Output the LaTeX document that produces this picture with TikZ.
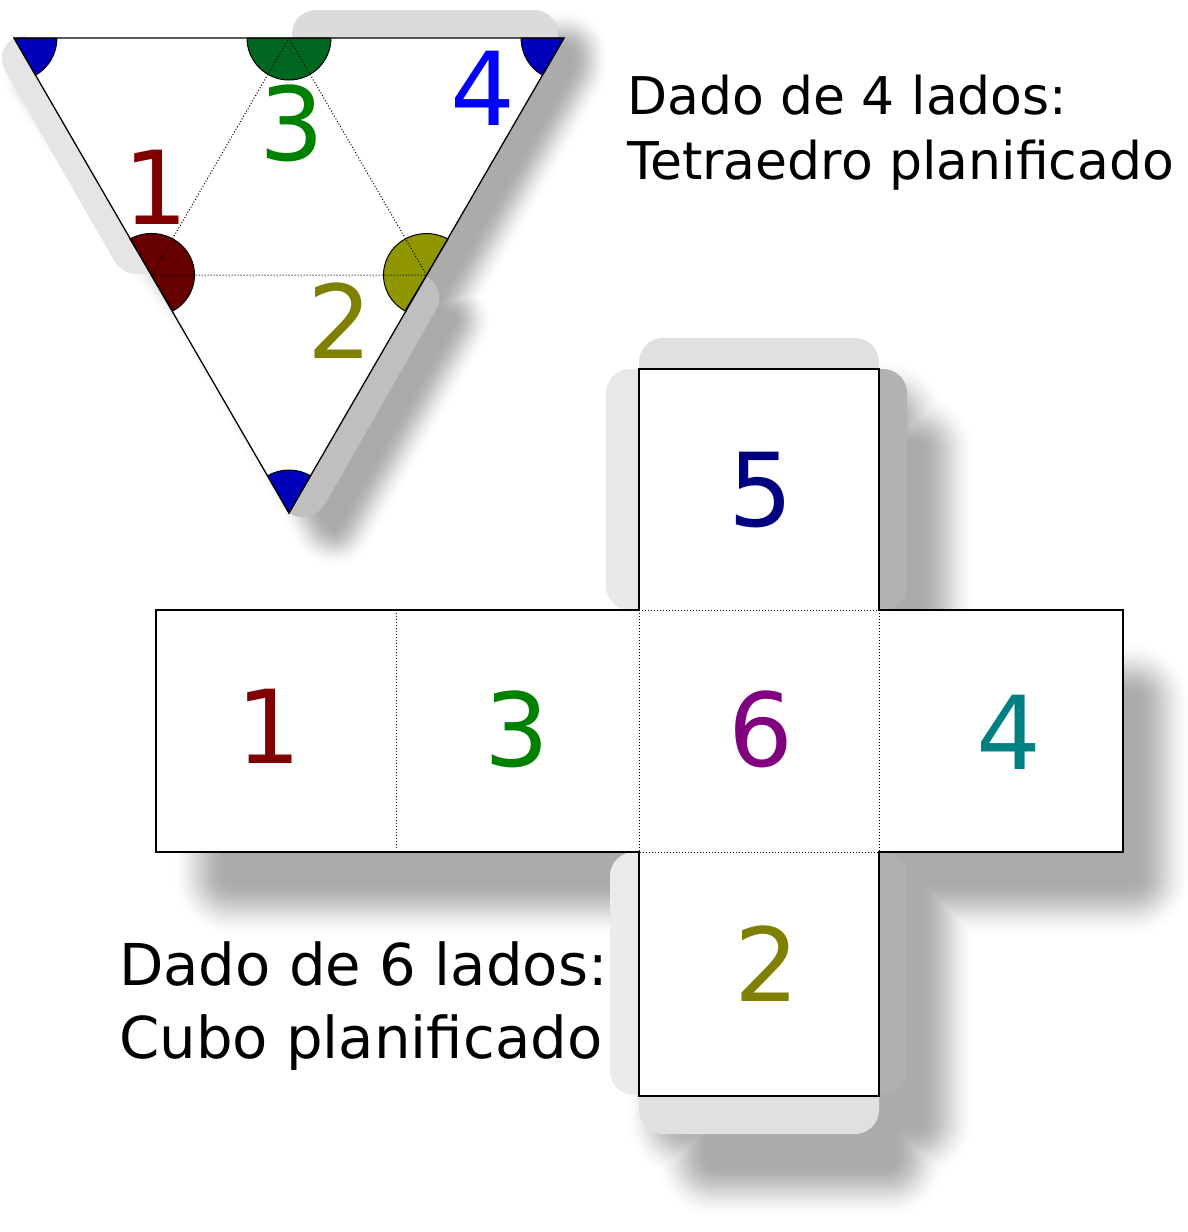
\documentclass[tikz,border=0pt]{standalone}
\usepackage{fontspec}
\setmainfont{DejaVu Sans}
\usepackage{xcolor}
\usepackage{tikz}
\usetikzlibrary{positioning,calc}
\definecolor{palRed}{HTML}{800000}
\definecolor{palGreen}{HTML}{008000}
\definecolor{palOlive}{HTML}{808000}
\definecolor{palBlue}{HTML}{0000FF}
\definecolor{palNavy}{HTML}{000080}
\definecolor{palPurple}{HTML}{800080}
\definecolor{palTeal}{HTML}{008080}
\definecolor{palSecBlue}{HTML}{0000BB}
\definecolor{palSecGreen}{HTML}{006622}
\definecolor{palSecRed}{HTML}{660000}
\definecolor{palSecOlive}{HTML}{8F9600}
\tikzset{
  flap/.style={rounded corners=24pt},
  netface/.style={draw=black, fill=white, line width=1.3pt, line join=miter},
  foldline/.style={line width=1pt, dash pattern=on 1pt off 2pt},
  sector/.style={draw=black, line width=1pt},
  digitlabel/.style={font=\fontsize{102}{102}\selectfont, inner sep=0pt},
}
% soft shadow: nested outlines from pale to full grey
\newcommand{\softshadow}[2]{%
  \foreach \i in {0,...,39}{%
    \pgfmathsetmacro\tval{(\i+0.5)/40}%
    \pgfmathsetmacro\pct{33*\tval*\tval*(3-2*\tval)}%
    \pgfmathsetmacro\wval{4*#1*(1-\tval)}%
    \path[fill=black!\pct!white, draw=black!\pct!white, line width=\wval pt,
          line join=round, rounded corners=6pt] #2;
  }%
}
\newcommand{\triShadow}{(307,-25) -- (543,-25) -- (543,-44) -- (406,-282) -- (427,-294)
  -- (307,-504) -- (301,-501) -- (190,-300) -- (165,-270) -- (11,-51) -- (307,-51) -- cycle}
\newcommand{\cubeShadow}{(667,-356) -- (851,-356) -- (851,-387) -- (879,-387) -- (879,-638)
  -- (1095,-638) -- (1095,-824) -- (879,-824) -- (879,-1068) -- (851,-1068) -- (851,-1106)
  -- (667,-1106) -- (667,-1068) -- (638,-1068) -- (638,-824) -- (184,-824) -- (184,-638)
  -- (634,-638) -- (634,-387) -- (667,-387) -- cycle}

\begin{document}
\begin{tikzpicture}[x=1pt, y=1pt]
\useasboundingbox (0,0) rectangle (1187,-1232);
%% Shadows
\begin{scope}[shift={(28,-24)}]
  \softshadow{20}{\triShadow}
\end{scope}
\begin{scope}[shift={(42,-58)}]
  \softshadow{28}{\cubeShadow}
\end{scope}
%% Tetrahedron
\coordinate (triA) at (14,-38);
\coordinate (triB) at (564,-38);
\coordinate (triC) at (289,-513);
\coordinate (midAB) at (289,-38);
\coordinate (midAC) at (151.5,-275);
\coordinate (midBC) at (426.5,-275);
\fill[black!10] (25,-36) .. controls (8,-36) and (-5,-52) .. (6,-72) -- (108,-250)
  .. controls (116,-265) and (122,-274) .. (138,-274) -- (151,-274);
\fill[flap, black!14] (292,-38) -- (292,-10) -- (558,-10) -- (558,-38);
\fill[flap, black!25] (424,-275) -- (448,-289) -- (313,-525) -- (289,-513);
\fill[white] (triA) -- (triB) -- (triC) -- cycle;
\draw[sector, fill=palSecBlue] (triA) -- ++(43,0) arc[start angle=0, end angle=-60, radius=43] -- cycle;
\draw[sector, fill=palSecBlue] (triB) -- ++(-43,0) arc[start angle=180, end angle=240, radius=43] -- cycle;
\draw[sector, fill=palSecBlue] (triC) -- ++(60:43) arc[start angle=60, end angle=120, radius=43] -- cycle;
\draw[sector, fill=palSecGreen] (midAB) ++(-42,0) arc[start angle=180, end angle=360, radius=42] -- cycle;
\draw[sector, fill=palSecRed] (midAC) ++(21.5,-35.9) arc[start angle=-60, end angle=120, x radius=43, y radius=41.5] -- cycle;
\draw[sector, fill=palSecOlive] (midBC) ++(21.5,35.9) arc[start angle=60, end angle=240, x radius=43, y radius=41.5] -- cycle;
\draw[foldline] (midAB) -- (midAC) -- (midBC) -- cycle;
\draw[netface, fill=none] (triA) -- (triB) -- (triC) -- cycle;
\node[digitlabel, text=palRed] (triOne) at (156,-187) {1};
\node[digitlabel, text=palOlive] (triTwo) at (340,-321) {2};
\node[digitlabel, text=palGreen] (triThree) at (292,-123) {3};
\node[digitlabel, text=palBlue] (triFour) at (483,-88) {4};
%% Cube
\fill[flap, black!9] (639,-610) -- (606,-610) -- (606,-369) -- (639,-369);
\fill[flap, black!12] (639,-369) -- (639,-338) -- (879,-338) -- (879,-369);
\fill[flap, black!30] (879,-369) -- (907,-369) -- (907,-610) -- (879,-610);
\fill[flap, black!8] (639,-852) -- (610,-852) -- (610,-1095) -- (639,-1095);
\fill[flap, black!31] (879,-852) -- (907,-852) -- (907,-1095) -- (879,-1095);
\fill[flap, black!12] (639,-1096) -- (639,-1134) -- (879,-1134) -- (879,-1096);
\draw[netface] (639,-369) -- (879,-369) -- (879,-610) -- (1123,-610) -- (1123,-852)
  -- (879,-852) -- (879,-1096) -- (639,-1096) -- (639,-852) -- (156,-852) -- (156,-610)
  -- (639,-610) -- cycle;
\draw[foldline] (396,-610) -- (396,-848);
\draw[foldline] (639,-610) -- (879,-610) -- (879,-852) -- (639,-852) -- cycle;
\node[digitlabel, text=palRed] (cubeOne) at (269,-726) {1};
\node[digitlabel, text=palOlive] (cubeTwo) at (767,-964) {2};
\node[digitlabel, text=palGreen] (cubeThree) at (517,-729) {3};
\node[digitlabel, text=palTeal] (cubeFour) at (1009,-732) {4};
\node[digitlabel, text=palNavy] (cubeFive) at (761,-490) {5};
\node[digitlabel, text=palPurple] (cubeSix) at (761,-729) {6};
%% Captions
\node[font=\fontsize{52}{65}\selectfont, align=left, anchor=north west, inner sep=0pt] (capTetra)
  at (627,-75) {Dado de 4 lados:\\Tetraedro planificado};
\node[font=\fontsize{57.7}{73}\selectfont, align=left, anchor=north west, inner sep=0pt] (capCube)
  at (119,-941) {Dado de 6 lados:\\Cubo planificado};
\end{tikzpicture}
\end{document}
